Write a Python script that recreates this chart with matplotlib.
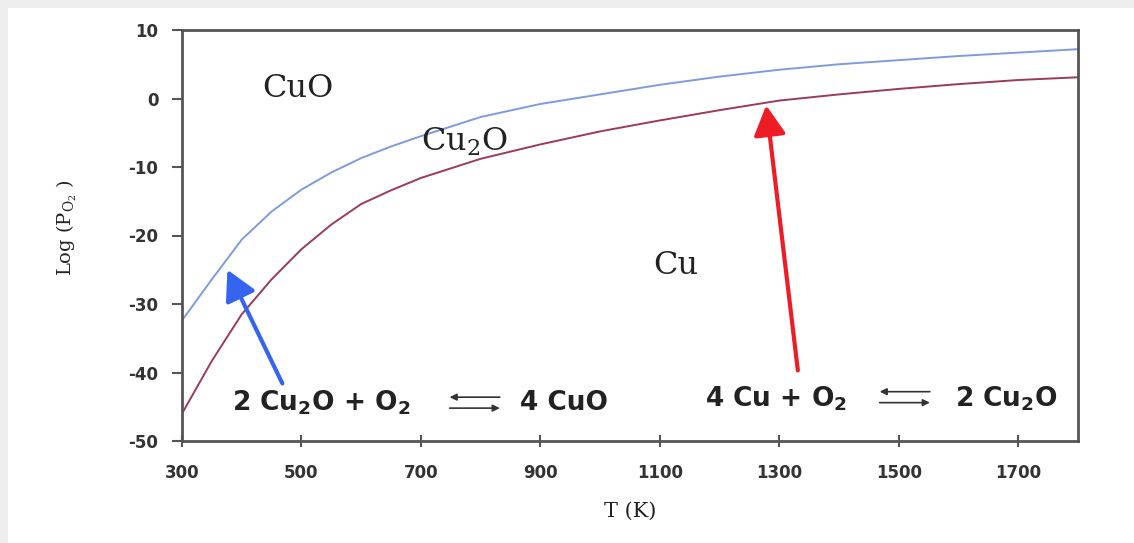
import matplotlib
matplotlib.use('Agg')
import matplotlib.pyplot as plt
from matplotlib.patches import Rectangle

plt.rcParams['axes.unicode_minus'] = False

# temperature grid (K) and log(pO2) boundaries
T = [300, 350, 400, 450, 500, 550, 600, 650, 700, 800, 900, 1000,
     1100, 1200, 1300, 1400, 1500, 1600, 1700, 1800]
cuo_cu2o = [-32.4, -26.4, -20.6, -16.5, -13.3, -10.8, -8.7, -7.0, -5.5,
            -2.7, -0.8, 0.6, 2.0, 3.2, 4.2, 5.0, 5.6, 6.2, 6.7, 7.2]
cu2o_cu = [-46.0, -38.3, -31.5, -26.4, -22.0, -18.4, -15.4, -13.4, -11.6,
           -8.8, -6.7, -4.8, -3.2, -1.7, -0.3, 0.6, 1.4, 2.1, 2.7, 3.1]

x_ticks = [300, 500, 700, 900, 1100, 1300, 1500, 1700]
y_ticks = [-50, -40, -30, -20, -10, 0, 10]

fig = plt.figure(figsize=(11.34, 5.43), dpi=100)
fig.patch.set_facecolor('#eeeeee')
fig.patches.append(Rectangle((8 / 1134, 0), 1, 1 - 8 / 543, transform=fig.transFigure,
                             facecolor='white', edgecolor='none', zorder=-10))

ax = fig.add_axes([182 / 1134, 1 - 441 / 543, 896 / 1134, 411 / 543])
ax.set_zorder(1)

ax.plot(T, cuo_cu2o, color='#7f9be0', lw=1.4)
ax.plot(T, cu2o_cu, color='#9c3a5c', lw=1.4)

ax.set_xlim(300, 1800)
ax.set_ylim(-50, 10)
ax.set_xticks(x_ticks)
ax.set_yticks(y_ticks)

for s in ax.spines.values():
    s.set_color('#555555')
    s.set_linewidth(2)

ax.tick_params(axis='x', direction='inout', length=9, width=1.5, color='#555555', pad=12)
ax.tick_params(axis='y', direction='out', length=7, width=1.5, color='#555555', pad=10)
for lab in ax.get_xticklabels() + ax.get_yticklabels():
    lab.set_fontfamily('DejaVu Sans')
    lab.set_fontweight('bold')
    lab.set_fontsize(12)
    lab.set_color('#333333')

ax.set_xlabel('T (K)', family='DejaVu Serif', fontsize=15, labelpad=14, color='#222222')
ax.set_ylabel('Log (P$_{\\mathregular{O_2}}$ )', family='DejaVu Serif', fontsize=14,
              color='#222222', math_fontfamily='dejavuserif')
ax.yaxis.set_label_coords(-0.115, 0.52)

# phase labels
serif = dict(family='DejaVu Serif', fontsize=23, color='#222222', ha='center', va='center',
             math_fontfamily='dejavuserif')
ax.text(494, 1.5, 'CuO', **serif)
ax.text(772, -6.3, 'Cu$_\\mathregular{2}$O', **serif)
ax.text(1127, -24.4, 'Cu', **serif)

# reactions
eq = dict(family='DejaVu Sans', fontweight='bold', fontsize=19, color='#222222',
          ha='left', va='center', math_fontfamily='dejavusans')
ax.text(384, -44.4, '2 Cu$_\\mathbf{2}$O + O$_\\mathbf{2}$', **eq)
ax.text(866, -44.4, '4 CuO', **eq)
ax.text(1175, -43.9, '4 Cu + O$_\\mathbf{2}$', **eq)
ax.text(1594, -43.9, '2 Cu$_\\mathbf{2}$O', **eq)

small = dict(arrowstyle='-|>', color='#333333', lw=1.2, mutation_scale=10,
             shrinkA=0, shrinkB=0)
ax.annotate('', xy=(748, -43.6), xytext=(832, -43.6), arrowprops=small)
ax.annotate('', xy=(832, -45.2), xytext=(748, -45.2), arrowprops=small)
ax.annotate('', xy=(1468, -42.8), xytext=(1552, -42.8), arrowprops=small)
ax.annotate('', xy=(1552, -44.4), xytext=(1468, -44.4), arrowprops=small)

# pointer arrows
ax.annotate('', xy=(376, -25.0), xytext=(468, -41.6),
            arrowprops=dict(arrowstyle='-|>,head_length=1.3,head_width=0.7',
                            color='#3565f0', lw=3, mutation_scale=14,
                            shrinkA=0, shrinkB=0))
ax.annotate('', xy=(1278, -1.0), xytext=(1331, -39.7),
            arrowprops=dict(arrowstyle='-|>,head_length=1.3,head_width=0.7',
                            color='#ee1c24', lw=3, mutation_scale=14,
                            shrinkA=0, shrinkB=0))

fig.savefig('out.png', dpi=100, facecolor=fig.get_facecolor())
